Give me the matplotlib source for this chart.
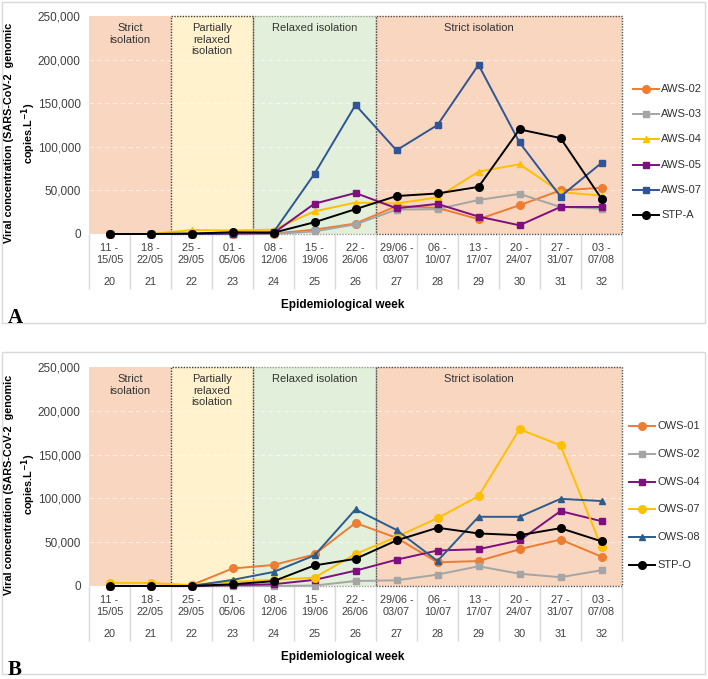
import matplotlib.pyplot as plt
import numpy as np
from matplotlib.lines import Line2D
from matplotlib.patches import Rectangle
from matplotlib.ticker import FuncFormatter
from matplotlib.transforms import offset_copy

plt.rcParams['font.family'] = ['Liberation Sans', 'DejaVu Sans']

# categories
dates = ['11 -\n15/05', '18 -\n22/05', '25 -\n29/05', '01 -\n05/06', '08 -\n12/06',
         '15 -\n19/06', '22 -\n26/06', '29/06 -\n03/07', '06 -\n10/07', '13 -\n17/07',
         '20 -\n24/07', '27 -\n31/07', '03 -\n07/08']
weeks = ['20', '21', '22', '23', '24', '25', '26', '27', '28', '29', '30', '31', '32']

# panel A series
names_a = ['AWS-02', 'AWS-03', 'AWS-04', 'AWS-05', 'AWS-07', 'STP-A']
aws02 = [0, 0, 500, 500, 500, 5000, 12000, 32000, 30000, 17000, 33000, 50000, 53000]
aws03 = [0, 0, 0, 0, 0, 3000, 11000, 28000, 28500, 39000, 46000, 31000, 29000]
aws04 = [0, 0, 4500, 4000, 5000, 26000, 36000, 35000, 42000, 71500, 80000, 48000, 44000]
aws05 = [0, 0, 0, 500, 1000, 34800, 47000, 29500, 34500, 20000, 10000, 31000, 31000]
aws07 = [0, 0, 0, 1000, 2000, 69000, 148000, 96000, 125000, 194000, 105000, 43000, 81500]
stp_a = [0, 0, 500, 2000, 1500, 13500, 28500, 43500, 46500, 54000, 120000, 110000, 40500]

# panel B series
names_b = ['OWS-01', 'OWS-02', 'OWS-04', 'OWS-07', 'OWS-08', 'STP-O']
ows01 = [0, 0, 1000, 20000, 24000, 36000, 72000, 55000, 27000, 28500, 42000, 53000, 33500]
ows02 = [0, 0, 0, 0, 0, 500, 5700, 6500, 13000, 22500, 14000, 10000, 18000]
ows04 = [0, 0, 0, 1000, 2000, 7000, 17500, 30000, 40500, 42000, 52000, 85500, 74000]
ows07 = [3500, 3500, 1000, 5000, 7000, 9500, 36500, 56000, 77500, 102500, 179000, 160500, 44500]
ows08 = [0, 0, 0, 7000, 16000, 35000, 87500, 64000, 28500, 79000, 79000, 99500, 97000]
stp_o = [0, 0, 0, 2000, 5500, 23500, 31000, 52000, 66500, 60000, 58000, 66000, 51000]

W, H = 708, 679
fig = plt.figure(figsize=(W / 100, H / 100), dpi=100)

def fx(px):
    return px / W

def fy(py):
    return 1 - py / H

STRICT = '#F8D6C0'
PARTIAL = '#FFF2CC'
RELAXED = '#E2EFDA'


def draw_panel(top, bottom, series, names, colors, markers, sizes, letter, leg_x, leg_y):
    ax = fig.add_axes([fx(89), fy(bottom), fx(622) - fx(89), (bottom - top) / H])
    x = np.arange(len(weeks))
    ax.set_xlim(-0.5, 12.5)
    ax.set_ylim(0, 250000)

    # isolation periods
    ax.axvspan(-0.5, 1.5, color=STRICT, lw=0, zorder=0)
    ax.axvspan(1.5, 3.5, color=PARTIAL, lw=0, zorder=0)
    ax.axvspan(3.5, 6.5, color=RELAXED, lw=0, zorder=0)
    ax.axvspan(6.5, 12.5, color=STRICT, lw=0, zorder=0)
    for x0, x1, ec in [(3.5, 6.5, '#9a9a9a'), (1.5, 3.5, '#404040'), (6.5, 12.5, '#505050')]:
        ax.add_patch(Rectangle((x0, 0), x1 - x0, 250000, fill=False, ec=ec,
                               ls=(0, (1, 1)), lw=1.0, zorder=1, clip_on=False))

    for gy in range(50000, 200001, 50000):
        ax.axhline(gy, color='white', lw=0.8, ls=(0, (4, 3)), alpha=0.6, zorder=0.5)

    tkw = dict(ha='center', va='top', fontsize=8, color='#333333', linespacing=1.2)
    ax.text(0.5, 242000, 'Strict\nisolation', **tkw)
    ax.text(2.5, 242000, 'Partially\nrelaxed\nisolation', **tkw)
    ax.text(5.0, 242000, 'Relaxed isolation', **tkw)
    ax.text(9.0, 242000, 'Strict isolation', **tkw)

    for ys, c, m, ms in zip(series, colors, markers, sizes):
        ax.plot(x, ys, color=c, marker=m, ms=ms, lw=1.4, zorder=3, clip_on=False)

    for s in ax.spines.values():
        s.set_visible(False)
    ax.set_xticks([])
    ax.set_yticks(range(0, 250001, 50000))
    ax.yaxis.set_major_formatter(FuncFormatter(lambda v, p: f'{int(v):,}'))
    ax.tick_params(axis='y', length=0, pad=6, labelsize=8.5, labelcolor='#404040')

    # category table under the axis
    xt = ax.get_xaxis_transform()
    ax.vlines(np.arange(-0.5, 13), 0, -55 / (bottom - top), transform=xt,
              color='#d9d9d9', lw=1, clip_on=False)
    for i in x:
        ax.text(i, 0, dates[i], transform=offset_copy(xt, fig=fig, y=-9, units='dots'),
                ha='center', va='top', fontsize=7.8, color='#404040', linespacing=1.25)
        ax.text(i, 0, weeks[i], transform=offset_copy(xt, fig=fig, y=-48, units='dots'),
                ha='center', va='center', fontsize=7.8, color='#404040')

    fig.text(fx(343), fy(bottom + 71), 'Epidemiological week', ha='center', va='center',
             fontsize=8.5, fontweight='bold')
    fig.text(fx(21), fy((top + bottom) / 2 + 8),
             'Viral concentration (SARS-CoV-2  genomic\ncopies.L$^{\\mathbf{-1}}$)',
             rotation=90, ha='center', va='center', multialignment='center',
             fontsize=7.8, fontweight='bold', linespacing=1.35)
    fig.text(fx(15), fy(bottom + 84), letter, ha='center', va='center',
             fontsize=15, fontweight='bold', family='Liberation Serif')

    # legend
    for i, (n, c, m, ms) in enumerate(zip(names, colors, markers, sizes)):
        yy = fy(leg_y[0] + i * leg_y[1])
        fig.add_artist(Line2D([fx(leg_x), fx(leg_x + 13), fx(leg_x + 26)], [yy, yy, yy],
                              color=c, marker=m, ms=ms, lw=1.4, markevery=[1],
                              transform=fig.transFigure))
        fig.text(fx(leg_x + 28), yy, n, ha='left', va='center', fontsize=8, color='#333333')
    return ax


# outer frames
fig.add_artist(Rectangle((fx(2), fy(323)), fx(703), 321 / H, fill=False, ec='#d9d9d9',
                         lw=1, transform=fig.transFigure))
fig.add_artist(Rectangle((fx(2), fy(674)), fx(703), 322 / H, fill=False, ec='#d9d9d9',
                         lw=1, transform=fig.transFigure))

draw_panel(16, 234, [aws02, aws03, aws04, aws05, aws07, stp_a], names_a,
           ['#ED7D31', '#A5A5A5', '#FFC000', '#7F0F80', '#2F5597', '#000000'],
           ['o', 's', '^', 's', 's', 'o'], [5.5, 4.5, 5, 4.5, 5, 5.5], 'A', 633, (89, 25.2))
draw_panel(367, 586, [ows01, ows02, ows04, ows07, ows08, stp_o], names_b,
           ['#ED7D31', '#A5A5A5', '#7F0F80', '#FFC000', '#2B5C8C', '#000000'],
           ['o', 's', 's', 'o', '^', 'o'], [5.5, 4.5, 4.5, 5.5, 5, 5.5], 'B', 629, (426, 27.8))

fig.savefig('out.png', dpi=100)
